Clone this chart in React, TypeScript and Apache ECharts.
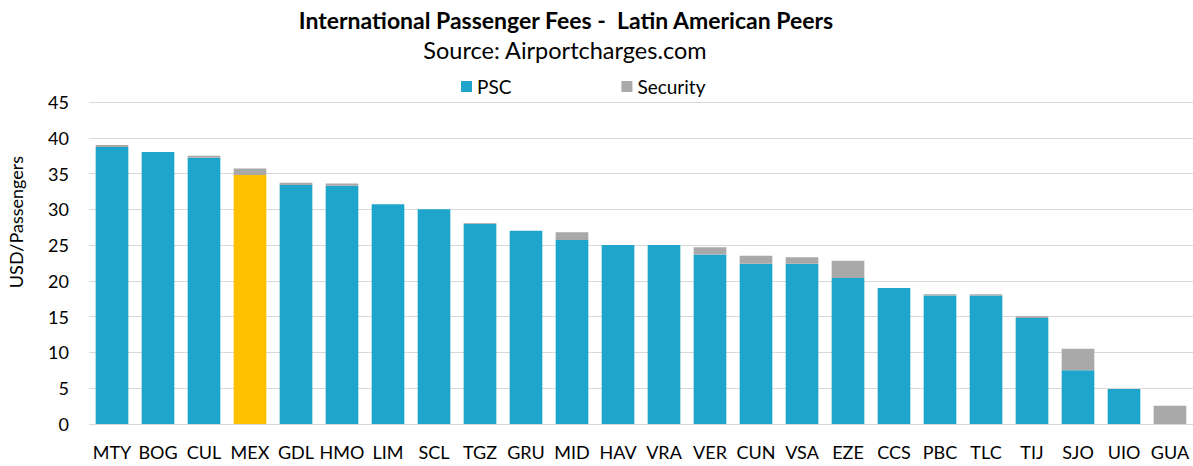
import React, { useEffect, useRef } from "react";
import * as echarts from "echarts";

const categories = ["MTY", "BOG", "CUL", "MEX", "GDL", "HMO", "LIM", "SCL", "TGZ", "GRU", "MID", "HAV", "VRA", "VER", "CUN", "VSA", "EZE", "CCS", "PBC", "TLC", "TIJ", "SJO", "UIO", "GUA"];
const pscValues = [38.7, 38.0, 37.2, 34.8, 33.4, 33.3, 30.7, 30.0, 28.0, 27.0, 25.7, 25.0, 25.0, 23.7, 22.4, 22.4, 20.4, 19.0, 17.95, 17.95, 14.8, 7.5, 4.9, 0];
const securityValues = [0.3, 0, 0.3, 0.9, 0.3, 0.3, 0, 0, 0.1, 0, 1.1, 0, 0, 1.0, 1.1, 0.9, 2.4, 0, 0.2, 0.2, 0.25, 3.0, 0, 2.55];
const highlighted = "MEX";

const FONT = "Lato, 'Open Sans', sans-serif";
const BLUE = "#1FA5CC";
const GRAY = "#A9A9A9";
const YELLOW = "#FFC000";

export default function App() {
  const ref = useRef<HTMLDivElement>(null);
  useEffect(() => {
    if (!ref.current) return;
    const chart = echarts.init(ref.current, undefined, { renderer: "svg" });
    chart.setOption({
      animation: false,
      backgroundColor: "#fff",
      title: [
        {
          text: "International Passenger Fees -  Latin American Peers",
          left: 561,
          top: 3,
          textAlign: "center",
          textStyle: { fontFamily: FONT, fontSize: 23, fontWeight: "bold", color: "#000" },
        },
        {
          text: "Source: Airportcharges.com",
          left: 560,
          top: 33,
          textAlign: "center",
          textStyle: { fontFamily: FONT, fontSize: 23.5, fontWeight: "normal", color: "#000" },
        },
      ],
      legend: {
        data: ["PSC", "Security"],
        left: 456,
        top: 72,
        icon: "rect",
        itemWidth: 11,
        itemHeight: 11,
        itemGap: 110,
        textStyle: { fontFamily: FONT, fontSize: 19, color: "#000" },
      },
      graphic: [
        {
          type: "text",
          x: 16,
          y: 222,
          rotation: Math.PI / 2,
          style: {
            text: "USD/Passengers",
            fontFamily: FONT,
            fontSize: 18,
            fill: "#000",
            align: "center",
            verticalAlign: "middle",
          },
        },
      ],
      grid: { left: 89, right: 0, top: 102, bottom: 42, containLabel: false },
      xAxis: {
        type: "category",
        data: categories,
        axisLine: { show: false },
        axisTick: { show: false },
        axisLabel: { fontFamily: FONT, fontSize: 18, color: "#000", margin: 19, interval: 0 },
      },
      yAxis: {
        type: "value",
        min: 0,
        max: 45,
        interval: 5,
        axisLine: { show: false },
        axisTick: { show: false },
        splitLine: { lineStyle: { color: "#D9D9D9", width: 1 } },
        axisLabel: { fontFamily: FONT, fontSize: 18, color: "#000", margin: 20 },
      },
      series: [
        {
          name: "PSC",
          type: "bar",
          stack: "total",
          barCategoryGap: "29%",
          itemStyle: { color: BLUE },
          data: pscValues.map((v, i) =>
            categories[i] === highlighted ? { value: v, itemStyle: { color: YELLOW } } : v
          ),
        },
        {
          name: "Security",
          type: "bar",
          stack: "total",
          itemStyle: { color: GRAY },
          data: securityValues,
        },
      ],
    });
    return () => chart.dispose();
  }, []);
  return (
    <div
      ref={ref}
      style={{ position: "fixed", left: 0, top: 0, width: 1193, height: 466 }}
    />
  );
}
